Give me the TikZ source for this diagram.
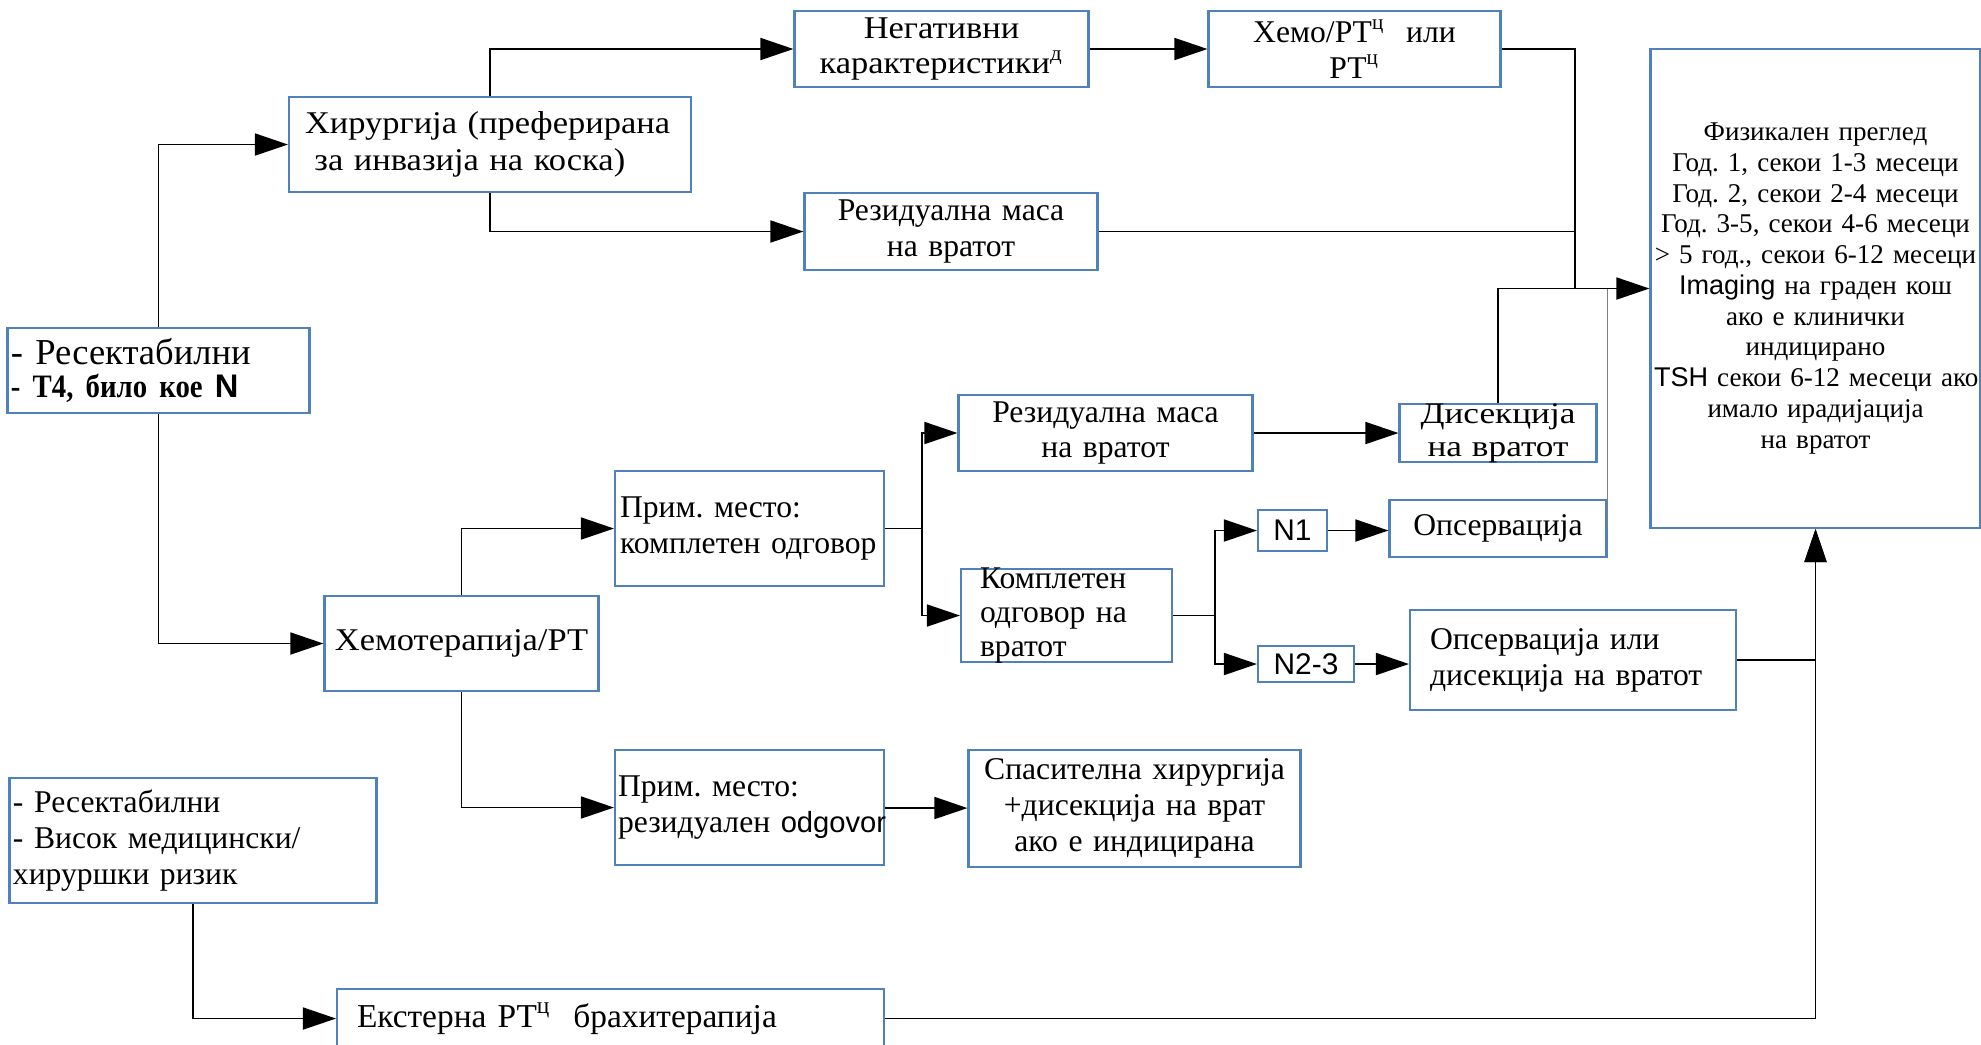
\documentclass[tikz,border=0pt]{standalone}
\usepackage{fontspec}
\setmainfont{Liberation Serif}
\setsansfont{Liberation Sans}
\newfontfamily\wideserif{Liberation Serif}[FakeStretch=1.09]
\newfontfamily\broadserif{Liberation Serif}[FakeStretch=1.18]
\newfontfamily\narrowserif{Liberation Serif}[FakeStretch=0.88]
\usetikzlibrary{arrows.meta,positioning}
\definecolor{boxblue}{RGB}{79,129,189}
\tikzstyle{box}=[draw=boxblue,line width=0.6pt,inner xsep=1pt,inner ysep=0pt,
                font=\fontsize{9}{10.2}\selectfont]
\tikzstyle{boxc}=[box,align=center]
\tikzstyle{boxl}=[box,align=left]
\tikzstyle{nbox}=[box,font=\fontsize{8.5}{10}\sffamily]
\tikzstyle{hit}=[-{Triangle[length=3.3mm,width=2.2mm]},line width=0.5pt]
\tikzstyle{link}=[line width=0.5pt]
\newcommand{\RTc}{РТ\textsuperscript{ц}}
\frenchspacing

\begin{document}
\begin{tikzpicture}
\path[use as bounding box] (0,0) rectangle (19.81,-10.44);

% left column
\node[boxl,text width=2.95cm,minimum height=0.85cm,font=\fontsize{10.4}{9.6}\selectfont] (res) at (1.585,-3.705)
{- Ресектабилни\\{\fontsize{9.3}{9.6}\narrowserif\bfseries - Т4, било кое {\sffamily N}}};
\node[boxl,text width=3.60cm,minimum height=1.25cm] (resC) at (1.93,-8.405)
{- Ресектабилни\\- Висок медицински/\\хируршки ризик};

% surgery branch
\node[boxl,inner xsep=0.16cm,text width=3.70cm,minimum height=0.95cm,font=\fontsize{9}{10.5}\wideserif] (hir) at (4.90,-1.445)
{\mbox{Хирургија (преферирана}\\\hspace{0.3em}за инвазија на коска)};
\node[boxc,text width=2.87cm,minimum height=0.76cm,font=\fontsize{9}{10}\wideserif] (neg) at (9.415,-0.49)
{Негативни\\карактеристики\textsuperscript{д}};
\node[boxc,text width=2.85cm,minimum height=0.76cm,font=\fontsize{9}{10}\selectfont] (hemo) at (13.545,-0.49)
{Хемо/\RTc\ \ или\\\RTc};
\node[boxc,text width=2.86cm,minimum height=0.77cm] (resA) at (9.51,-2.315)
{Резидуална маса\\на вратот};

% chemo branch
\node[boxc,text width=2.67cm,minimum height=0.95cm,font=\fontsize{9}{10.5}\wideserif] (hemrt) at (4.615,-6.435)
{Хемотерапија/РТ};
\node[boxl,inner xsep=0.05cm,text width=2.59cm,minimum height=1.15cm] (primA) at (7.495,-5.285)
{Прим. место:\\\mbox{комплетен одговор}};
\node[boxc,text width=2.87cm,minimum height=0.76cm] (resB) at (11.055,-4.33)
{Резидуална маса\\на вратот};
\node[boxc,text width=1.90cm,inner ysep=-0.06cm,minimum height=0.58cm,font=\fontsize{8.5}{9.3}\broadserif] (disek) at (14.98,-4.33)
{Дисекција\\на вратот};
\node[boxl,inner xsep=0.19cm,text width=1.73cm,inner ysep=-0.04cm,minimum height=0.93cm,font=\fontsize{9}{9.7}\selectfont] (kompl) at (10.665,-6.155)
{Комплетен\\одговор на\\вратот};
\node[nbox,minimum width=0.69cm,minimum height=0.41cm] (nA) at (12.925,-5.305) {N1};
\node[nbox,minimum width=0.96cm,minimum height=0.36cm] (nB) at (13.06,-6.64) {N2-3};
\node[boxc,text width=2.10cm,minimum height=0.57cm] (obs) at (14.98,-5.285) {Опсервација};
\node[boxl,inner xsep=0.2cm,text width=2.86cm,minimum height=1.00cm] (obsB) at (15.73,-6.60)
{Опсервација или\\дисекција на вратот};
\node[boxl,inner xsep=0.03cm,text width=2.63cm,minimum height=1.15cm] (primB) at (7.495,-8.075)
{Прим. место:\\\mbox{резидуален {\fontsize{8.3}{10}\sffamily odgovor}}};
\node[boxc,text width=3.25cm,minimum height=1.17cm] (spas) at (11.345,-8.085)
{Спасителна хирургија\\+дисекција на врат\\ако е индицирана};
\node[boxl,inner xsep=0.2cm,text width=5.07cm,minimum height=0.59cm,font=\fontsize{9.5}{10.5}\selectfont] (ext) at (6.105,-10.185)
{Екстерна \RTc\ \ брахитерапија};

% follow-up
\node[boxc,text width=3.23cm,minimum height=4.79cm,font=\fontsize{7.7}{8.75}\selectfont] (fiz) at (18.155,-2.885)
{Физикален преглед\\Год. 1, секои 1-3 месеци\\Год. 2, секои 2-4 месеци\\
Год. 3-5, секои 4-6 месеци\\\mbox{> 5 год., секои 6-12 месеци}\\{\sffamily Imaging} на граден кош\\
ако е клинички\\индицирано\\\mbox{{\sffamily TSH} секои 6-12 месеци ако}\\имало ирадијација\\на вратот};

\coordinate (forkA) at (9.22,-5.285);
\coordinate (forkB) at (12.15,-6.155);
\coordinate (join) at (15.75,-2.885);

\draw[hit] (res.north) |- (hir.west);
\draw[hit] (res.south) |- (hemrt.west);
\draw[hit] (hir.north) |- (neg.west);
\draw[hit] (hir.south) |- (resA.west);
\draw[hit] (neg) -- (hemo);
\draw[hit] (hemrt.north) |- (primA.west);
\draw[hit] (hemrt.south) |- (primB.west);
\draw[hit] (primB) -- (spas);
\draw[link] (primA.east) -- (forkA);
\draw[hit] (forkA) |- (resB.west);
\draw[hit] (forkA) |- (kompl.west);
\draw[hit] (resB) -- (disek);
\draw[link] (kompl.east) -- (forkB);
\draw[hit] (forkB) |- (nA.west);
\draw[hit] (forkB) |- (nB.west);
\draw[hit] (nA.east) -- (nA.east -| obs.west);
\draw[hit] (nB.east) -- (nB.east -| obsB.west);
\draw[hit] (resC.south) |- (ext.west);

% into the follow-up box
\draw[link] (hemo.east) -| (join);
\draw[link] (resA.east) -- (resA.east -| join);
\draw[link] (disek.north) |- (join);
\draw[link,gray] (obs.east) -- (obs.east |- join);
\draw[hit] (join) -- (fiz.west);
\draw[hit] (obsB.east) -| (fiz.south);
\draw[hit] (ext.east) -| (fiz.south);
\end{tikzpicture}
\end{document}
